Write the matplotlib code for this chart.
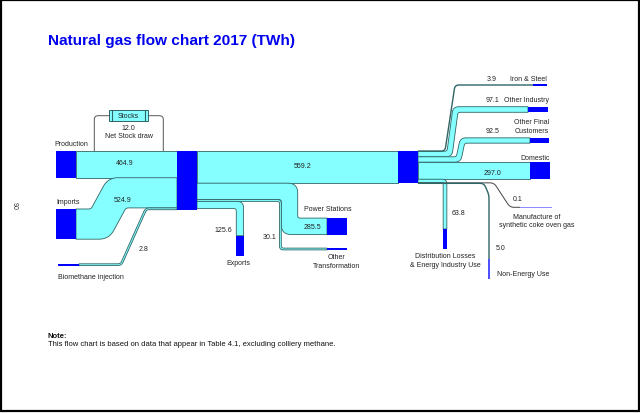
import numpy as np
import matplotlib
matplotlib.use("Agg")
import matplotlib.pyplot as plt
from matplotlib.patches import Polygon, Rectangle

plt.rcParams['font.family'] = ['Liberation Sans', 'DejaVu Sans']

# ---------------- data (TWh) ----------------
source_names = ["Production", "Imports", "Biomethane injection"]
source_values = [464.9, 524.9, 2.8]
stock_value = 12.0
trunk_value = 559.2
transfer_names = ["Power Stations", "Other\nTransformation", "Exports"]
transfer_values = [285.5, 30.1, 125.6]
final_names = ["Iron & Steel", "Other Industry", "Other Final\nCustomers", "Domestic",
               "Distribution Losses\n& Energy Industry Use",
               "Manufacture of\nsynthetic coke oven gas", "Non-Energy Use"]
final_values = [3.9, 97.1, 92.5, 297.0, 63.8, 0.1, 5.0]

# ---------------- styling / layout ----------------
S = 0.0575          # pixels per TWh
MINW = 1.8
CYAN = "#85FFFF"
EDGE = "#2F6464"
BLUE = "#0000FF"
TXT = "#222222"
FS = 5.0

fig = plt.figure(figsize=(6.4, 4.14), dpi=100)
ax = fig.add_axes([0, 0, 1, 1])
ax.set_xlim(0, 640)
ax.set_ylim(414, 0)
ax.axis("off")


def unit(v):
    return v / np.linalg.norm(v)


def perp(d):
    return np.array([-d[1], d[0]])


def rounded(P, radii):
    P = np.asarray(P, float)
    out = [P[0]]
    for i in range(1, len(P) - 1):
        a, b, c = P[i - 1], P[i], P[i + 1]
        l1 = np.linalg.norm(b - a)
        l2 = np.linalg.norm(c - b)
        r = min(radii[i], 0.5 * l1, 0.5 * l2)
        d1 = (b - a) / l1
        d2 = (c - b) / l2
        p0 = b - d1 * r
        p2 = b + d2 * r
        t = np.linspace(0, 1, 12)[:, None]
        q = (1 - t) ** 2 * p0 + 2 * (1 - t) * t * b + t ** 2 * p2
        out.extend(list(q))
    out.append(P[-1])
    return np.array(out)


def offset(P, w, s):
    P = np.asarray(P, float)
    n = len(P)
    pts, radii = [], []
    for i in range(n):
        if i == 0:
            d = unit(P[1] - P[0])
            pts.append(P[0] + s * w / 2 * perp(d))
            radii.append(0)
        elif i == n - 1:
            d = unit(P[-1] - P[-2])
            pts.append(P[-1] + s * w / 2 * perp(d))
            radii.append(0)
        else:
            d1 = unit(P[i] - P[i - 1])
            d2 = unit(P[i + 1] - P[i])
            n1, n2 = perp(d1), perp(d2)
            m = (n1 + n2) / (1 + n1 @ n2)
            pts.append(P[i] + s * w / 2 * m)
            cross = d1[0] * d2[1] - d1[1] * d2[0]
            inner = s * cross > 0
            radii.append(2.5 if inner else min(w / 2 + 3, 10))
    return rounded(pts, radii)


def band(P, w, z=2):
    left = offset(P, w, +1)
    right = offset(P, w, -1)
    poly = np.vstack([left, right[::-1]])
    ax.add_patch(Polygon(poly, closed=True, facecolor=CYAN, edgecolor=EDGE,
                         linewidth=0.6, zorder=z, joinstyle="round"))


def thin(P, color=EDGE, lw=0.9, z=3):
    Q = rounded(P, [0] + [4] * (len(P) - 2) + [0])
    ax.plot(Q[:, 0], Q[:, 1], color=color, lw=lw, zorder=z, solid_capstyle="butt")


def node(x0, x1, y0, y1, color=BLUE):
    ax.add_patch(Rectangle((x0, y0), x1 - x0, y1 - y0, facecolor=color,
                           edgecolor="none", zorder=5))


def txt(x, y, s, ha="center", **kw):
    ax.text(x, y, s, ha=ha, va="center", fontsize=FS, color=TXT, zorder=6, **kw)


def wid(v):
    return max(v * S, MINW)


# ---------------- node A (collector) ----------------
Ax0, Ax1, Atop = 177, 197, 152
win = [wid(v) for v in source_values]
wout = [trunk_value * S] + [wid(v) for v in transfer_values]
Ah = max(sum(win), sum(wout))

lc, y = [], Atop
for w in win:
    lc.append(y + w / 2)
    y += w
rc, y = [], Atop
for w in wout:
    rc.append(y + w / 2)
    y += w

# Production
wp = win[0]
band([(76, lc[0]), (Ax0, lc[0])], wp)
node(56, 76, Atop, Atop + wp)
# Imports
wi = win[1]
imp_top = 210
band([(76, imp_top + wi / 2), (100, imp_top + wi / 2), (117, lc[1]), (Ax0, lc[1])], wi)
node(56, 76, imp_top, imp_top + wi)
# Biomethane
wb = win[2]
band([(79, 265.7), (121, 265.7), (146, lc[2]), (Ax0, lc[2])], wb)
node(58, 79, 265.7 - wb / 2, 265.7 + wb / 2)

# Stocks loop
thin([(94.3, Atop), (94.3, 116.7), (109, 116.7)], color="#555555", lw=0.7)
thin([(147.7, 116.7), (163.3, 116.7), (163.3, Atop)], color="#555555", lw=0.7)
ax.add_patch(Rectangle((109, 111), 38.7, 11.3, facecolor=CYAN, edgecolor=EDGE,
                       linewidth=0.7, zorder=4))
for xx in (111.5, 145.2):
    ax.plot([xx, xx], [111, 122.3], color=EDGE, lw=0.8, zorder=4)

# ---------------- outflows of A ----------------
Bx0, Bx1 = 398, 418
wt = wout[0]
band([(Ax1, rc[0]), (Bx0, rc[0])], wt)

wps = wout[1]
ps_x = 289.5
ps_y = 227.3
band([(Ax1, rc[1]), (ps_x, rc[1]), (ps_x, ps_y), (327, ps_y)], wps)
node(327, 347, ps_y - wps / 2, ps_y + wps / 2)

wot = wout[2]
ot_x = ps_x - wps / 2 - wot / 2
band([(Ax1, rc[2]), (ot_x, rc[2]), (ot_x, 250), (327, 250)], wot)
node(327, 347, 250 - wot / 2, 250 + wot / 2)

wex = wout[3]
ex_x = 239.9
band([(Ax1, rc[3]), (ex_x, rc[3]), (ex_x, 236.7)], wex)
node(ex_x - wex / 2, ex_x + wex / 2, 236.7, 256.7)

node(Ax0, Ax1, Atop, Atop + Ah)

# ---------------- outflows of B ----------------
wf = [v * S for v in final_values]
fc, y = [], Atop
for w in wf:
    fc.append(y + w / 2)
    y += w

# Iron & Steel
thin([(Bx1, fc[0]), (445, fc[0]), (455, 86), (533, 86)], lw=1.0)
node(533, 547, 85.2, 86.8)
# Other Industry
band([(Bx1, fc[1]), (449.5, fc[1]), (455.5, 110.5), (528, 110.5)], wf[1])
node(528, 548, 110.5 - wf[1] / 2, 110.5 + wf[1] / 2)
# Other Final Customers
band([(Bx1, fc[2]), (458.5, fc[2]), (462.5, 141.5), (530, 141.5)], wf[2])
node(530, 549, 141.5 - wf[2] / 2, 141.5 + wf[2] / 2)
# Domestic
band([(Bx1, fc[3]), (530, fc[3])], wf[3])
node(530, 550, fc[3] - wf[3] / 2, fc[3] + wf[3] / 2)
# Distribution losses
band([(Bx1, fc[4]), (445, fc[4]), (445, 230)], wf[4])
node(445 - wf[4] / 2, 445 + wf[4] / 2, 230, 250)
# Manufacture of synthetic coke oven gas
thin([(Bx1, fc[5]), (494, fc[5]), (510, 208.3), (520, 208.3)], color="#444444", lw=0.7)
node(520, 552, 207.6, 209.0, color="#8C8CFF")
# Non-energy use
thin([(Bx1, fc[6] + 0.3), (484, fc[6] + 0.3), (489, 196), (489, 260)], lw=1.0)
node(488.3, 489.7, 260, 280, color="#5050FF")

node(Bx0, Bx1, Atop, Atop + wt)

# ---------------- labels ----------------
txt(54, 145, source_names[0], ha="left")
txt(56, 202.7, source_names[1], ha="left")
txt(58, 277.3, source_names[2], ha="left")
txt(124.3, 164, f"{source_values[0]:.1f}")
txt(122.7, 200.7, f"{source_values[1]:.1f}")
txt(143.3, 249.3, f"{source_values[2]:.1f}")
txt(128.3, 116.2, "Stocks")
txt(128.5, 128.7, f"{stock_value:.1f}")
txt(129.3, 136.7, "Net Stock draw")

txt(302.3, 166.7, f"{trunk_value:.1f}")
txt(328.3, 210, transfer_names[0])
txt(312.3, 227.3, f"{transfer_values[0]:.1f}")
txt(337, 262, transfer_names[1], linespacing=1.35)
txt(269.3, 237.3, f"{transfer_values[1]:.1f}")
txt(238, 264, transfer_names[2])
txt(223, 231, f"{transfer_values[2]:.1f}")

txt(492, 79.3, f"{final_values[0]:.1f}")
txt(547, 79.3, final_names[0], ha="right")
txt(492, 101, f"{final_values[1]:.1f}")
txt(548.5, 101, final_names[1], ha="right")
txt(492.5, 131.7, f"{final_values[2]:.1f}")
txt(549, 127.2, final_names[2], ha="right", multialignment="right", linespacing=1.35)
txt(550, 158.3, final_names[3], ha="right")
txt(492, 173.3, f"{final_values[3]:.1f}")
txt(458, 213.3, f"{final_values[4]:.1f}")
txt(445, 260.7, final_names[4], linespacing=1.45)
txt(518, 199.3, f"{final_values[5]:.1f}")
txt(537, 221.4, final_names[5], linespacing=1.3)
txt(501, 248.3, f"{final_values[6]:.1f}")
txt(496.7, 275, final_names[6], ha="left")

# title, note, page number
ax.text(48.5, 41.5, "Natural gas flow chart 2017 (TWh)", fontsize=11.1, fontweight="bold",
        color="#0000EE", ha="left", va="center")
ax.text(48, 336.3, "Note:", fontsize=5.5, fontweight="bold", color="#111111",
        ha="left", va="center")
ax.text(48, 345, "This flow chart is based on data that appear in Table 4.1, excluding colliery methane.",
        fontsize=5.5, color="#111111", ha="left", va="center")
ax.text(14, 205.5, "90", fontsize=5, color="#333333", rotation=-90, ha="center", va="center")

# frame
ax.add_patch(Rectangle((1, 1), 637.5, 410.7, fill=False, edgecolor="black", linewidth=1.6,
                       zorder=10))

fig.savefig("out.png", dpi=100)
